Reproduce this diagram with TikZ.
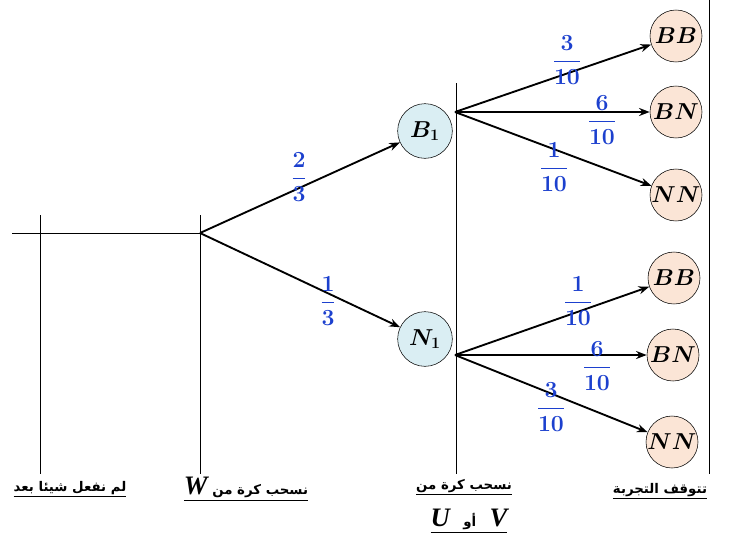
\documentclass[tikz,border=0pt]{standalone}
\usepackage{fontspec}
\usepackage{amsmath,amssymb}
\usetikzlibrary{arrows.meta}
\newfontfamily\arabicfont[Script=Arabic]{DejaVu Sans}
\newfontfamily\timesfont{Liberation Serif}
\TeXXeTstate=1
\definecolor{probblue}{RGB}{28,64,206}
\definecolor{stagefill}{RGB}{218,238,243}
\definecolor{leaffill}{RGB}{251,229,214}

\begin{document}
\begin{tikzpicture}[x=0.75pt,y=0.75pt,yscale=-1,xscale=1,
  stage/.style={draw,circle,fill=stagefill,minimum size=41pt,inner sep=0pt,font=\fontsize{18}{20}\selectfont\boldmath},
  leaf/.style={draw,circle,fill=leaffill,minimum size=39pt,inner sep=0pt,font=\fontsize{18}{20}\selectfont\boldmath},
  prob/.style={text=probblue,inner sep=0pt,font=\fontsize{17.28}{19}\selectfont\boldmath},
  branch/.style={line width=1.4pt,-{Stealth[length=8pt,width=6pt]}},
  caption/.style={inner sep=0.75pt,font=\arabicfont\bfseries\fontsize{10}{12}\selectfont}]
\useasboundingbox (0,0) rectangle (739,536);

% time lines
\draw (12,233) -- (200,233) ;
\draw (40,215) -- (40,474) ;
\draw (200,215) -- (200,474) ;
\draw (456,83) -- (456,474) ;
\draw (709,0) -- (709,474) ;

% first draw
\coordinate (root) at (200,233);
\node [stage] (B1) at (425,131) {$B_1$};
\node [stage] (N1) at (425,339) {$N_1$};
\draw [branch] (root) -- (B1) ;
\draw [branch] (root) -- (N1) ;
\node [prob] (p1) at (299,177) {$\dfrac{2}{3}$};
\node [prob] (p2) at (328,301) {$\dfrac{1}{3}$};

% second draw after B1
\coordinate (b1pt) at (455,112);
\node [leaf] (BB1) at (676,36) {$BB$};
\node [leaf] (BN1) at (676,112) {$BN$};
\node [leaf] (NN1) at (676,195) {$NN$};
\draw [branch] (b1pt) -- (BB1) ;
\draw [branch] (b1pt) -- (BN1) ;
\draw [branch] (b1pt) -- (NN1) ;
\node [prob] (q1) at (567,60) {$\dfrac{3}{10}$};
\node [prob] (q2) at (602,120) {$\dfrac{6}{10}$};
\node [prob] (q3) at (554,167) {$\dfrac{1}{10}$};

% second draw after N1
\coordinate (n1pt) at (455,355);
\node [leaf] (BB2) at (674,278) {$BB$};
\node [leaf] (BN2) at (673,355) {$BN$};
\node [leaf] (NN2) at (672,442) {$NN$};
\draw [branch] (n1pt) -- (BB2) ;
\draw [branch] (n1pt) -- (BN2) ;
\draw [branch] (n1pt) -- (NN2) ;
\node [prob] (r1) at (578,301) {$\dfrac{1}{10}$};
\node [prob] (r2) at (597,366) {$\dfrac{6}{10}$};
\node [prob] (r3) at (551,407) {$\dfrac{3}{10}$};

% captions
\node [caption] (c0) at (70,489) {\underline{\beginR لم نفعل شيئا بعد\endR}};
\node [caption] (c1) at (246,489) {\underline{{\timesfont\bfseries\itshape\fontsize{20}{22}\selectfont W}\ \beginR نسحب كرة من\endR}};
\node [caption] (c2) at (464,487) {\underline{\beginR نسحب كرة من\endR}};
\node [caption] (c3) at (469,521) {\underline{{\timesfont\bfseries\itshape\fontsize{20}{22}\selectfont U}\quad\beginR أو\endR\quad{\timesfont\bfseries\itshape\fontsize{20}{22}\selectfont V}}};
\node [caption] (c4) at (660,491) {\underline{\beginR تتوقف التجربة\endR}};

\end{tikzpicture}
\end{document}
